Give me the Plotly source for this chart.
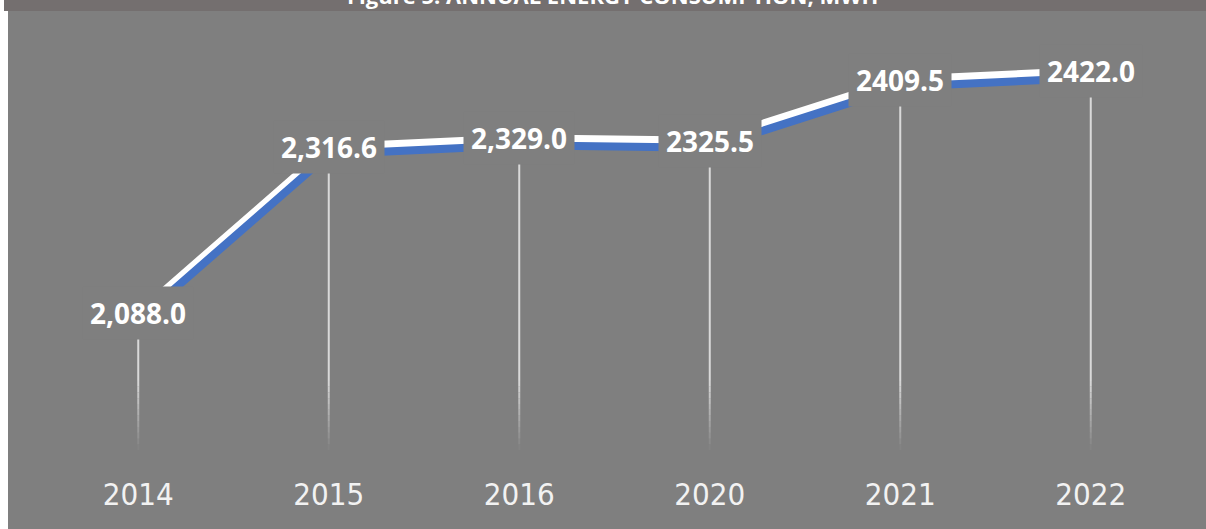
import plotly.graph_objects as go

# Annual energy consumption (MWh) by year
years = ["2014", "2015", "2016", "2020", "2021", "2022"]
consumption = [2088.0, 2316.6, 2329.0, 2325.5, 2409.5, 2422.0]
# whether each data label is printed with a thousands separator
grouped_label = [True, True, True, False, False, False]

title_text = "Figure 5: ANNUAL ENERGY CONSUMPTION, MWH"

Y_MIN, Y_MAX = 1900, 2500
PANEL = "#7f7f7f"
HEADER = "#746f6f"
PLOT_H = 436  # pixel height of the plotting area
SHADOW_PX = 7  # downward offset of the blue shadow line
shadow_units = SHADOW_PX * (Y_MAX - Y_MIN) / PLOT_H

fig = go.Figure()

# drop lines from each point to the floor, fading out near the bottom
fade_top = 1995
steps = 12
for yr, v in zip(years, consumption):
    fig.add_trace(go.Scatter(
        x=[yr, yr], y=[v, fade_top], mode="lines",
        line=dict(color="rgba(222,222,222,0.95)", width=2),
        hoverinfo="skip", showlegend=False))
    for i in range(steps):
        a = fade_top - (fade_top - Y_MIN) * i / steps
        b = fade_top - (fade_top - Y_MIN) * (i + 1) / steps
        alpha = 0.95 * (1 - (i + 0.5) / steps)
        fig.add_trace(go.Scatter(
            x=[yr, yr], y=[a, b], mode="lines",
            line=dict(color=f"rgba(222,222,222,{alpha:.3f})", width=2),
            hoverinfo="skip", showlegend=False))

# blue shadow line, drawn on an offset overlay axis
fig.add_trace(go.Scatter(
    x=years, y=consumption, mode="lines", yaxis="y2",
    line=dict(color="#4472c4", width=8),
    hoverinfo="skip", showlegend=False))

# main white line
fig.add_trace(go.Scatter(
    x=years, y=consumption, mode="lines",
    line=dict(color="#ffffff", width=8),
    hoverinfo="skip", showlegend=False))

annotations = []
for idx, (v, g) in enumerate(zip(consumption, grouped_label)):
    txt = f"{v:,.1f}" if g else f"{v:.1f}"
    # category axes place annotations by category index
    annotations.append(dict(
        x=idx, y=v, xref="x", yref="y", text=txt, showarrow=False,
        xanchor="center", yanchor="middle",
        bgcolor=PANEL, borderpad=7,
        font=dict(family="Open Sans, sans-serif", size=28, color="#ffffff", weight="bold")))

annotations.append(dict(
    x=0.498, y=1, xref="paper", yref="paper", yanchor="bottom", yshift=2,
    text=title_text, showarrow=False,
    font=dict(family="Open Sans, sans-serif", size=22, color="#ffffff", weight="bold")))

shapes = [
    # white strip at the left edge
    dict(type="rect", xref="paper", yref="paper", xsizemode="pixel", xanchor=0,
         x0=-43, x1=-35, y0=-0.3, y1=1.2, fillcolor="#ffffff", line_width=0, layer="below"),
    # header band
    dict(type="rect", xref="paper", yref="paper", xsizemode="pixel", xanchor=0,
         ysizemode="pixel", yanchor=1,
         x0=-39, x1=1200, y0=3, y1=30, fillcolor=HEADER, line_width=0, layer="below"),
]

fig.update_layout(
    width=1206, height=529,
    margin=dict(l=43, r=20, t=14, b=79),
    paper_bgcolor=PANEL, plot_bgcolor=PANEL,
    showlegend=False, hovermode=False,
    annotations=annotations, shapes=shapes,
    xaxis=dict(type="category", range=[-0.5, 5.5], showgrid=False, zeroline=False,
               showline=False, ticks="", ticklabelstandoff=23,
               tickfont=dict(family="Liberation Sans Narrow, DejaVu Sans Condensed, sans-serif",
                             size=31, color="#f2f2f2")),
    yaxis=dict(range=[Y_MIN, Y_MAX], visible=False, fixedrange=True),
    yaxis2=dict(range=[Y_MIN + shadow_units, Y_MAX + shadow_units], overlaying="y",
                visible=False, fixedrange=True),
)

fig.write_html("out.html")
